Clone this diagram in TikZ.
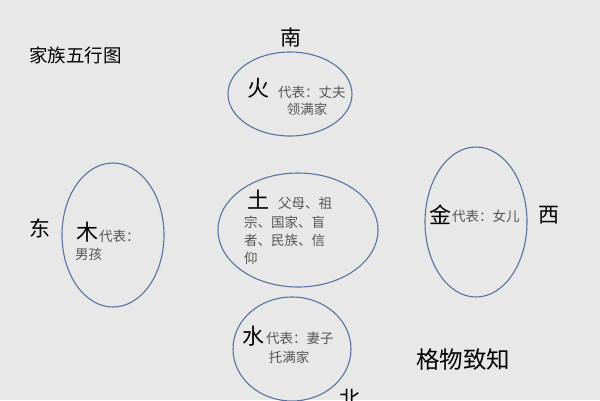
\documentclass[tikz,border=0pt]{standalone}
\usepackage{fontspec}
\setmainfont{Noto Sans CJK SC}
\definecolor{bggray}{HTML}{E8E8E8}
\definecolor{ringblue}{HTML}{5A72A2}
\definecolor{notegray}{HTML}{555555}
\tikzset{
  ring/.style={draw=ringblue, line width=1.1pt},
  elem/.style={font=\fontsize{22}{22}\selectfont, inner sep=0pt},
  note/.style={font=\fontsize{13.5}{16}\selectfont, text=notegray, inner sep=0pt},
  dir/.style={font=\fontsize{21}{21}\selectfont, inner sep=0pt}
}
\begin{document}
\begin{tikzpicture}[x=1pt,y=-1pt]
\fill[bggray] (0,0) rectangle (600,400);
\useasboundingbox (0,0) rectangle (600,400);
\clip (0,0) rectangle (600,400);

\node[font=\fontsize{18.5}{18.5}\selectfont, inner sep=0pt, anchor=west] (title) at (29,55) {家族五行图};

\draw[ring] (290,94) ellipse (62 and 42);
\draw[ring] (298,230) ellipse (80 and 57);
\draw[ring] (113,235) ellipse (51 and 72);
\draw[ring] (476,222) ellipse (51 and 75);
\draw[ring] (292,349) ellipse (59 and 52);

\node[dir] (south) at (291,38) {南};
\node[dir] (east) at (40,228) {东};
\node[dir] (west) at (549,215) {西};
\node[dir] (north) at (350,399) {北};

\node[elem] (fire) at (258,88) {火};
\node[note, anchor=west] (fire1) at (278,92) {代表：丈夫};
\node[note] (fire2) at (307,109) {领满家};

\node[elem] (earth) at (258,200) {土};
\node[note, anchor=west] (earth1) at (278,203) {父母、祖};
\node[note, anchor=west] (earth2) at (244,222) {宗、国家、盲};
\node[note, anchor=west] (earth3) at (244,240) {者、民族、信};
\node[note, anchor=west] (earth4) at (244,258) {仰};

\node[elem] (wood) at (87,232) {木};
\node[note, anchor=west] (wood1) at (99,236) {代表：};
\node[note, anchor=west] (wood2) at (75,254) {男孩};

\node[elem] (metal) at (440,215) {金};
\node[note, anchor=west] (metal1) at (452,216) {代表：女儿};

\node[elem] (water) at (253,336) {水};
\node[note, anchor=west] (water1) at (266,338) {代表：妻子};
\node[note] (water2) at (289,357) {托满家};

\node[font=\fontsize{23.5}{23.5}\selectfont, inner sep=0pt, anchor=west] (motto) at (416,360) {格物致知};
\end{tikzpicture}
\end{document}
